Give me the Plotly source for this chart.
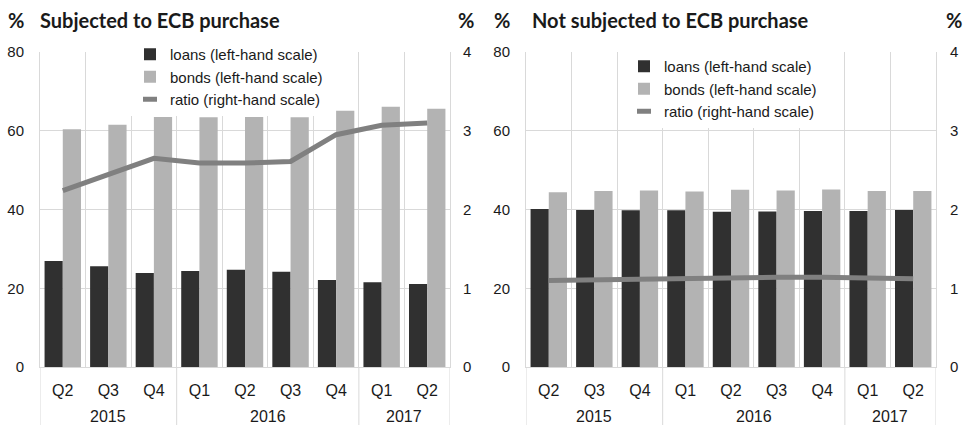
import plotly.graph_objects as go

years = ["2015", "2015", "2015", "2016", "2016", "2016", "2016", "2017", "2017"]
quarters = ["Q2", "Q3", "Q4", "Q1", "Q2", "Q3", "Q4", "Q1", "Q2"]

# Subjected to ECB purchase
loans_sub = [26.9, 25.6, 23.9, 24.4, 24.7, 24.2, 22.1, 21.5, 21.1]
bonds_sub = [60.4, 61.5, 63.5, 63.4, 63.5, 63.4, 65.1, 66.1, 65.6]
ratio_sub = [2.24, 2.44, 2.65, 2.59, 2.59, 2.61, 2.95, 3.07, 3.10]

# Not subjected to ECB purchase
loans_not = [40.1, 39.9, 39.8, 39.8, 39.4, 39.5, 39.6, 39.6, 39.9]
bonds_not = [44.4, 44.7, 44.8, 44.6, 45.0, 44.8, 45.1, 44.7, 44.7]
ratio_not = [1.10, 1.11, 1.12, 1.13, 1.14, 1.14, 1.14, 1.13, 1.12]

left_ticks = [0, 20, 40, 60, 80]
right_ticks = [0, 1, 2, 3, 4]

C_LOANS = "#303030"
C_BONDS = "#b3b3b3"
C_RATIO = "#808080"
GRID = "#d9d9d9"
TXT = "#1a1a1a"
FONT = "Liberation Sans, Arial, sans-serif"
TFONT = "Lato, Open Sans, sans-serif"

W, H = 963, 425
L, R, T, B = 40, 27, 52, 58
PW, PH = W - L - R, H - T - B


def px(xp):
    return (xp - L) / PW


def py(yp):
    return (H - B - yp) / PH


idx = list(range(len(quarters)))
# year groups derived from the category list
groups = []
for i, yv in enumerate(years):
    if groups and groups[-1][0] == yv:
        groups[-1][2] = i
    else:
        groups.append([yv, i, i])
bounds = [g[1] - 0.5 for g in groups] + [groups[-1][2] + 0.5]

fig = go.Figure()

panels = [
    ("x", "y", "y2", loans_sub, bonds_sub, ratio_sub, "legend"),
    ("x2", "y3", "y4", loans_not, bonds_not, ratio_not, "legend2"),
]
for xa, ya, ya2, lo, bo, ra, lg in panels:
    fig.add_trace(go.Bar(x=idx, y=lo, name="loans (left-hand scale)", marker_color=C_LOANS,
                         marker_line_width=0, xaxis=xa, yaxis=ya, legend=lg))
    fig.add_trace(go.Bar(x=idx, y=bo, name="bonds (left-hand scale)", marker_color=C_BONDS,
                         marker_line_width=0, xaxis=xa, yaxis=ya, legend=lg))
    fig.add_trace(go.Scatter(x=idx, y=ra, mode="lines", line=dict(color=C_RATIO, width=5),
                             showlegend=False, xaxis=xa, yaxis=ya2))
    fig.add_trace(go.Scatter(x=[None], y=[None], mode="markers", name="ratio (right-hand scale)",
                             marker=dict(symbol="line-ew", size=10, color=C_RATIO,
                                         line=dict(color=C_RATIO, width=5)),
                             xaxis=xa, yaxis=ya, legend=lg))
    # year dividers and labels under the axis
    for b in bounds:
        fig.add_shape(type="line", xref=xa, yref="paper", x0=b, x1=b, y0=0, y1=py(H),
                      line=dict(color=GRID, width=1), layer="below")
    for yv, i0, i1 in groups:
        fig.add_annotation(text=yv, xref=xa, yref="paper", x=(i0 + i1) / 2, y=py(417),
                           xanchor="center", yanchor="middle", showarrow=False,
                           font=dict(family=FONT, size=16, color=TXT))

xcommon = dict(range=[-0.5, len(idx) - 0.5], tickvals=idx, ticktext=quarters,
               showgrid=False, showline=True, linecolor=GRID, linewidth=1, ticks="",
               zeroline=False, ticklabelstandoff=9,
               minor=dict(tickmode="linear", tick0=0.5, dtick=1, showgrid=True,
                          gridcolor=GRID, gridwidth=1, ticks=""),
               tickfont=dict(family=FONT, size=16, color=TXT))
ycommon = dict(range=[0, 80], tickvals=left_ticks, showgrid=True, gridcolor=GRID,
               zeroline=False, showline=True, linecolor=GRID, ticks="",
               tickfont=dict(family=FONT, size=15, color=TXT))
y2common = dict(range=[0, 4], tickvals=right_ticks, showgrid=False, zeroline=False,
                showline=True, linecolor=GRID, ticks="", side="right",
                tickfont=dict(family=FONT, size=15, color=TXT))

d1 = [0, px(450)]
d2 = [px(526), 1]
fig.update_layout(
    template="none",
    width=W, height=H,
    margin=dict(l=L, r=R, t=T, b=B, autoexpand=False),
    paper_bgcolor="white", plot_bgcolor="white",
    barmode="group", bargap=0.2, bargroupgap=0,
    xaxis=dict(domain=d1, anchor="y", **xcommon),
    yaxis=dict(anchor="x", ticklabelstandoff=12, **ycommon),
    yaxis2=dict(anchor="x", overlaying="y", ticklabelstandoff=9, **y2common),
    xaxis2=dict(domain=d2, anchor="y3", **xcommon),
    yaxis3=dict(anchor="x2", ticklabelstandoff=12, **ycommon),
    yaxis4=dict(anchor="x2", overlaying="y3", ticklabelstandoff=10, **y2common),
    legend=dict(x=px(130), y=py(38), xanchor="left", yanchor="top", bgcolor="white",
                font=dict(family=FONT, size=15, color=TXT), borderwidth=0),
    legend2=dict(x=px(624), y=py(50), xanchor="left", yanchor="top", bgcolor="white",
                 font=dict(family=FONT, size=15, color=TXT), borderwidth=0),
    showlegend=True,
)

ann = [
    ("%", 6, "left"), ("Subjected to ECB purchase", 38, "left"), ("%", 456, "left"),
    ("%", 492, "left"), ("Not subjected to ECB purchase", 530, "left"), ("%", 964, "right"),
]
for text, xp, anc in ann:
    fig.add_annotation(text="<b>%s</b>" % text, xref="paper", yref="paper",
                       x=px(xp), y=py(20), xanchor=anc, yanchor="middle",
                       showarrow=False, font=dict(family=TFONT, size=20, color=TXT))

fig.write_html("out.html", config={"displayModeBar": False},
               post_script="document.body.style.margin='0px';")
